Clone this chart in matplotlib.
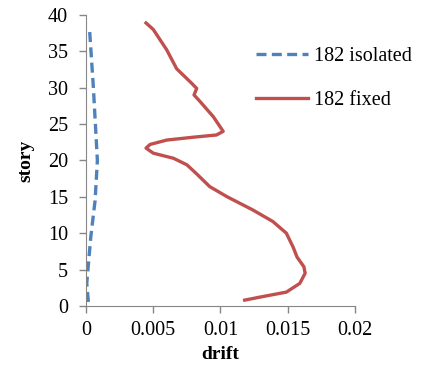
import matplotlib.pyplot as plt

plt.rcParams['font.family'] = ['Liberation Serif', 'DejaVu Serif']

# 182 fixed (red) : drift vs story
fixed_drift = [0.0118, 0.0129, 0.0149, 0.0159, 0.0163, 0.0162, 0.0157, 0.0154, 0.0149,
               0.0139, 0.0124, 0.0105, 0.0092, 0.0082, 0.0075, 0.0065, 0.0050, 0.00446,
               0.00476, 0.0060, 0.0080, 0.0097, 0.0102, 0.00947, 0.00848, 0.00803,
               0.00823, 0.00786, 0.00674, 0.0060, 0.0050, 0.00446]
fixed_story = [0.8, 1.2, 1.9, 3.1, 4.5, 5.4, 6.7, 8.1, 10.0,
               11.6, 13.2, 15.0, 16.4, 18.2, 19.4, 20.3, 21.0, 21.7,
               22.2, 22.8, 23.2, 23.5, 24.0, 26.0, 28.1, 29.0,
               29.9, 30.6, 32.6, 35.2, 38.0, 38.9]

# 182 isolated (blue)
iso_drift = [0.00017, 0.00005, 0.00035, 0.00067, 0.00084, 0.00054, 0.00025]
iso_story = [0.55, 3.1, 9.5, 14.5, 20.0, 30.1, 38.2]

fig = plt.figure(figsize=(4.22, 3.74), dpi=100)
ax = fig.add_axes([0.204, 0.182, 0.637, 0.778])

ax.plot(iso_drift, iso_story, color='#4F81BD', lw=2.4, ls=(0, (3.0, 1.6)),
        label='182 isolated')
ax.plot(fixed_drift, fixed_story, color='#C0504D', lw=2.4, label='182 fixed')

ax.set_xlim(0, 0.02)
ax.set_ylim(0, 40)
ax.set_xticks([0, 0.005, 0.01, 0.015, 0.02])
ax.set_xticklabels(['0', '0.005', '0.01', '0.015', '0.02'])
ax.set_yticks(range(0, 41, 5))

for s in ['top', 'right']:
    ax.spines[s].set_visible(False)
for s in ['left', 'bottom']:
    ax.spines[s].set_color('#868686')
ax.tick_params(axis='both', colors='#868686', labelcolor='black',
               labelsize=14.5, length=5, width=1)
ax.tick_params(axis='x', pad=6)
ax.tick_params(axis='y', pad=8)

ax.set_xlabel('drift', fontsize=14, fontweight='bold', labelpad=4)
ax.set_ylabel('story', fontsize=14, fontweight='bold', labelpad=10)

fig.legend(loc='upper left', bbox_to_anchor=(0.582, 0.902), frameon=False,
           fontsize=14.5, handlelength=2.6, handletextpad=0.3, labelspacing=1.25,
           borderpad=0)

fig.savefig('out.png', dpi=100)
